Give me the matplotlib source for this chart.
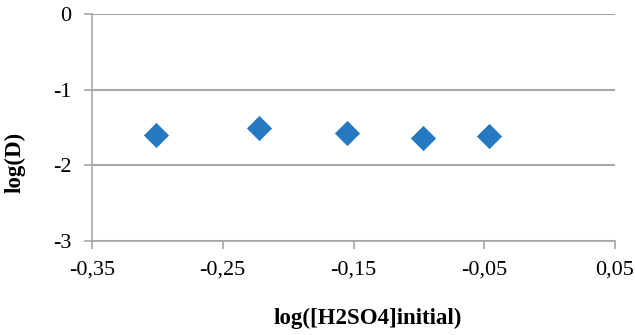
import matplotlib

matplotlib.use("Agg")
import matplotlib.pyplot as plt
from matplotlib.ticker import FuncFormatter

log_h2so4 = [-0.301, -0.222, -0.155, -0.097, -0.046]
log_d = [-1.60, -1.51, -1.575, -1.64, -1.61]
x_ticks = [-0.35, -0.25, -0.15, -0.05, 0.05]
y_ticks = [-3, -2, -1, 0]

plt.rcParams["font.family"] = ["Liberation Serif", "DejaVu Serif"]

fig = plt.figure(figsize=(6.35, 3.35), dpi=100)
ax = fig.add_axes([92 / 635, 1 - 240.7 / 335, (615 - 92) / 635, (240.7 - 14) / 335])

ax.scatter(log_h2so4, log_d, marker="D", s=165, color="#2479C0", zorder=3, linewidths=0)

ax.set_xlim(-0.35, 0.05)
ax.set_ylim(-3, 0)
ax.set_xticks(x_ticks)
ax.set_yticks(y_ticks)
ax.xaxis.set_major_formatter(FuncFormatter(lambda v, _: f"{v:.2f}".replace(".", ",")))
ax.yaxis.set_major_formatter(FuncFormatter(lambda v, _: f"{v:.0f}"))

grid_color = "#a6a6a6"
ax.grid(axis="y", color=grid_color, linewidth=1.5)
ax.set_axisbelow(True)
for side in ("top", "right"):
    ax.spines[side].set_visible(False)
for side in ("left", "bottom"):
    ax.spines[side].set_color(grid_color)
    ax.spines[side].set_linewidth(1.2)
ax.tick_params(axis="both", direction="out", length=6, color=grid_color, width=1.2,
               labelsize=16, colors=grid_color, labelcolor="black")
ax.tick_params(axis="x", pad=8)
ax.tick_params(axis="y", pad=9)

ax.set_xlabel("log([H2SO4]initial)", fontsize=16.5, fontweight="bold")
ax.set_ylabel("log(D)", fontsize=16.5, fontweight="bold")
# label centres sit off the axes centre in the reference
ax.xaxis.set_label_coords((367.5 - 92) / 523, -(318 - 240.7) / 226.7)
ax.yaxis.set_label_coords(-(92 - 15) / 523, (240.7 - 162) / 226.7)
ax.xaxis.label.set_va("center")
ax.yaxis.label.set_va("center")

fig.savefig("out.png", dpi=100)
